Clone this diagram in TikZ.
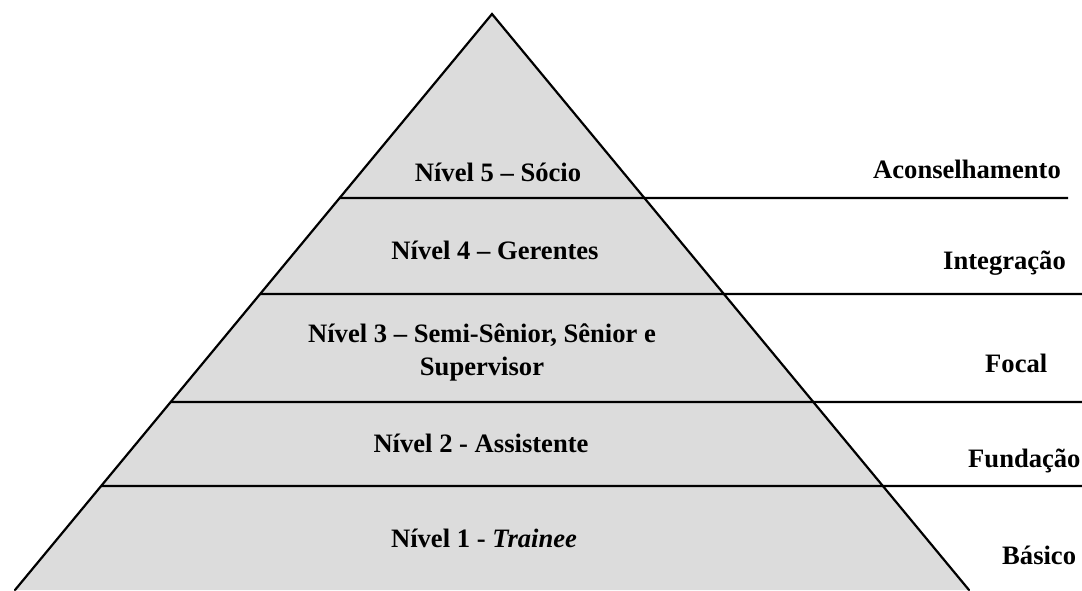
\documentclass[tikz,border=0pt]{standalone}
\usepackage{fontspec}
\setmainfont{Liberation Serif}
\usetikzlibrary{calc}
\begin{document}
\begin{tikzpicture}[x=1pt,y=-1pt,
  edge/.style={line width=2.2pt,black,line cap=round,line join=miter},
  band/.style={line width=2.2pt,black},
  lbl/.style={font=\fontsize{26.6}{33}\selectfont\bfseries,inner sep=0pt,anchor=base},
  side/.style={font=\fontsize{26.6}{33}\selectfont\bfseries,inner sep=0pt,anchor=base west}]
\useasboundingbox (0,0) rectangle (1082,590);
\definecolor{pyr}{RGB}{220,220,220}
\coordinate (apex) at (492,14);
\coordinate (bl) at (15,590);
\coordinate (br) at (969,590);
\fill[pyr] (apex) -- (bl) -- (br) -- cycle;
% horizontal bands
\coordinate (l5) at ($(apex)!{(198-14)/576}!(bl)$);
\coordinate (l4) at ($(apex)!{(294-14)/576}!(bl)$);
\coordinate (l3) at ($(apex)!{(402-14)/576}!(bl)$);
\coordinate (l2) at ($(apex)!{(486-14)/576}!(bl)$);
\coordinate (r5) at (1068,198);
\coordinate (r4) at (1082,294);
\coordinate (r3) at (1082,402);
\coordinate (r2) at (1082,486);
\draw[band] (l5) -- (r5);
\draw[band] (l4) -- (r4);
\draw[band] (l3) -- (r3);
\draw[band] (l2) -- (r2);
\draw[edge] (bl) -- (apex) -- (br);
% level labels
\node[lbl] (n5) at (498,181) {Nível 5 – Sócio};
\node[lbl] (n4) at (495,259) {Nível 4 – Gerentes};
\node[lbl,align=center] (n3) at (482,375) {Nível 3 – Semi-Sênior, Sênior e\\Supervisor};
\node[lbl] (n2) at (481,452) {Nível 2 - Assistente};
\node[lbl] (n1) at (484,547) {Nível 1 - \textit{Trainee}};
% side labels
\node[side] (s5) at (873,178) {Aconselhamento};
\node[side] (s4) at (943,269) {Integração};
\node[side] (s3) at (985,372) {Focal};
\node[side] (s2) at (968,467) {Fundação};
\node[side] (s1) at (1002,564) {Básico};
\end{tikzpicture}
\end{document}
